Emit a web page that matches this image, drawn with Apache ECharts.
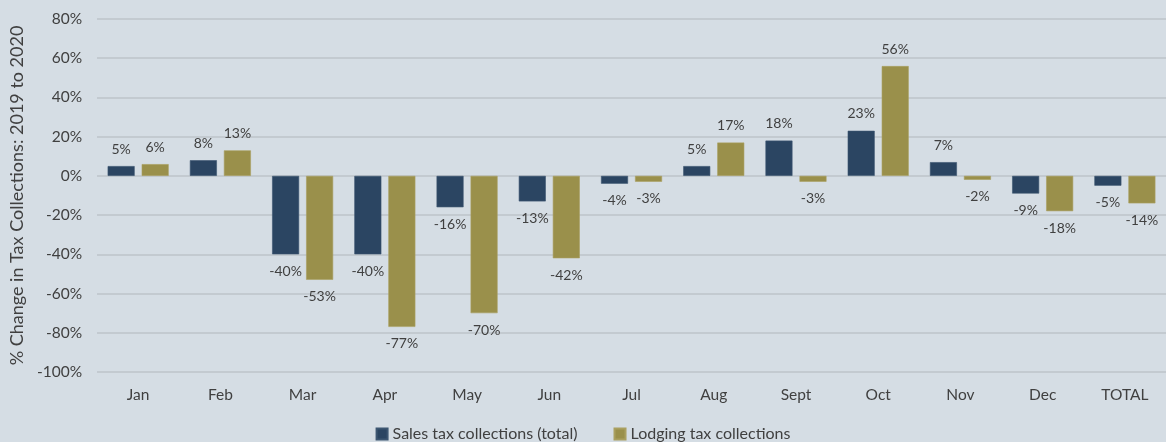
<!DOCTYPE html>
<html>
<head>
<meta charset="utf-8">
<script src="https://cdn.jsdelivr.net/npm/echarts@6/dist/echarts.min.js"></script>
<style>
  html, body { margin: 0; padding: 0; background: #d5dde4; }
  #chart { width: 1166px; height: 442px; }
</style>
</head>
<body>
<div id="chart"></div>
<script>
const months = ["Jan", "Feb", "Mar", "Apr", "May", "Jun", "Jul", "Aug", "Sept", "Oct", "Nov", "Dec", "TOTAL"];
const salesTax = [5, 8, -40, -40, -16, -13, -4, 5, 18, 23, 7, -9, -5];
const lodgingTax = [6, 13, -53, -77, -70, -42, -3, 17, -3, 56, -2, -18, -14];

const font = "Lato, 'Open Sans', sans-serif";

// label above for positive, below for negative
function withLabels(values) {
  return values.map(v => ({
    value: v,
    label: { position: v >= 0 ? "top" : "bottom" }
  }));
}

const ec = echarts.init(document.getElementById("chart"));
ec.setOption({
  backgroundColor: "#d5dde4",
  textStyle: { fontFamily: font },
  grid: { left: 95, right: -1, top: 19, bottom: 70 },
  legend: {
    bottom: -5,
    left: "center",
    icon: "rect",
    itemWidth: 11,
    itemHeight: 11,
    itemGap: 36,
    textStyle: { color: "#404040", fontSize: 16, fontFamily: font }
  },
  xAxis: {
    type: "category",
    data: months,
    axisLine: { show: false, onZero: false },
    axisTick: { show: false },
    axisLabel: { color: "#404040", fontSize: 15.5, margin: 15 }
  },
  yAxis: {
    type: "value",
    min: -100,
    max: 80,
    interval: 20,
    name: "% Change in Tax Collections: 2019 to 2020",
    nameLocation: "middle",
    nameRotate: 90,
    nameGap: 70,
    nameTextStyle: { color: "#404040", fontSize: 18 },
    axisLabel: { color: "#404040", fontSize: 15.5, margin: 15, formatter: "{value}%" },
    splitLine: { lineStyle: { color: "#bcc3ca", width: 1.5 } }
  },
  series: [
    {
      name: "Sales tax collections (total)",
      type: "bar",
      data: withLabels(salesTax),
      barWidth: 27,
      barGap: "26%",
      itemStyle: { color: "#2b4562", borderColor: "#3d5671", borderWidth: 0.6 },
      label: { show: true, formatter: "{c}%", color: "#404040", fontSize: 14, distance: 10 }
    },
    {
      name: "Lodging tax collections",
      type: "bar",
      data: withLabels(lodgingTax),
      barWidth: 27,
      itemStyle: { color: "#9a904b", borderColor: "#aaa060", borderWidth: 0.6 },
      label: { show: true, formatter: "{c}%", color: "#404040", fontSize: 14, distance: 10 }
    }
  ]
});
</script>
</body>
</html>
